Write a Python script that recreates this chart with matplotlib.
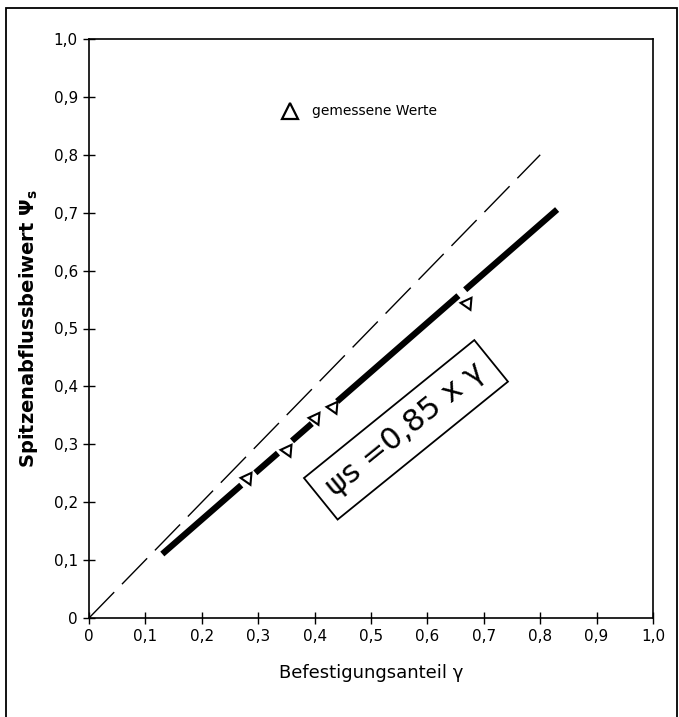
import numpy as np
import matplotlib.pyplot as plt
from matplotlib.patches import Rectangle

# gemessene Werte (Befestigungsanteil, Spitzenabflussbeiwert)
mess_x = [0.28, 0.351, 0.40, 0.433, 0.67]
mess_y = [0.242, 0.290, 0.345, 0.364, 0.544]

# Regressionsgerade psi_s = 0,85 * gamma, Abschnitte zwischen den Messpunkten
faktor = 0.85
abschnitte = [(0.13, 0.27), (0.295, 0.335), (0.36, 0.395), (0.44, 0.655), (0.667, 0.83)]

# Winkelhalbierende (gestrichelt)
diag = [0.0, 0.8]

ticks = [0, 0.1, 0.2, 0.3, 0.4, 0.5, 0.6, 0.7, 0.8, 0.9, 1.0]
ticklabels = ["0", "0,1", "0,2", "0,3", "0,4", "0,5", "0,6", "0,7", "0,8", "0,9", "1,0"]

fig = plt.figure(figsize=(6.79, 7.17), dpi=100)
ax = fig.add_axes([89/679, 1-618/717, 564/679, 579/717])

ax.plot(diag, diag, color="black", lw=1.0, dashes=(26, 8))
for a, b in abschnitte:
    xs = np.array([a, b])
    ax.plot(xs, faktor*xs, color="black", lw=4.5, solid_capstyle="butt")
ax.plot(mess_x, mess_y, ls="none", marker=(3, 0, -35), ms=10, mfc="white",
        mec="black", mew=1.5)

# Legende
ax.plot([0.356], [0.876], ls="none", marker="^", ms=11, mfc="white", mec="black", mew=1.6)
ax.text(0.396, 0.876, "gemessene Werte", fontsize=10, va="center", ha="left")

# Formel im Kasten
ax.text(0.562, 0.325, "ψs =0,85 x γ", fontsize=22, rotation=39,
        ha="center", va="center", rotation_mode="anchor",
        bbox=dict(boxstyle="square,pad=0.4", fc="white", ec="black", lw=1.3))

ax.set_xlim(0, 1)
ax.set_ylim(0, 1)
ax.set_xticks(ticks)
ax.set_xticklabels(ticklabels, fontsize=11)
ax.set_yticks(ticks)
ax.set_yticklabels(ticklabels, fontsize=11)
ax.tick_params(direction="inout", length=8, width=1, pad=4)
for s in ax.spines.values():
    s.set_linewidth(1.2)

ax.set_xlabel("Befestigungsanteil γ", fontsize=13, labelpad=14)
ax.set_ylabel("Spitzenabflussbeiwert $\\mathbf{\\Psi_s}$", fontsize=14, fontweight="bold",
              labelpad=10)

# Rahmen um die ganze Abbildung
fig.patches.append(Rectangle((6/679, -0.01), 671/679, 1-8/717+0.01, transform=fig.transFigure,
                             fill=False, ec="black", lw=1.3))

fig.savefig("out.png", dpi=100)
